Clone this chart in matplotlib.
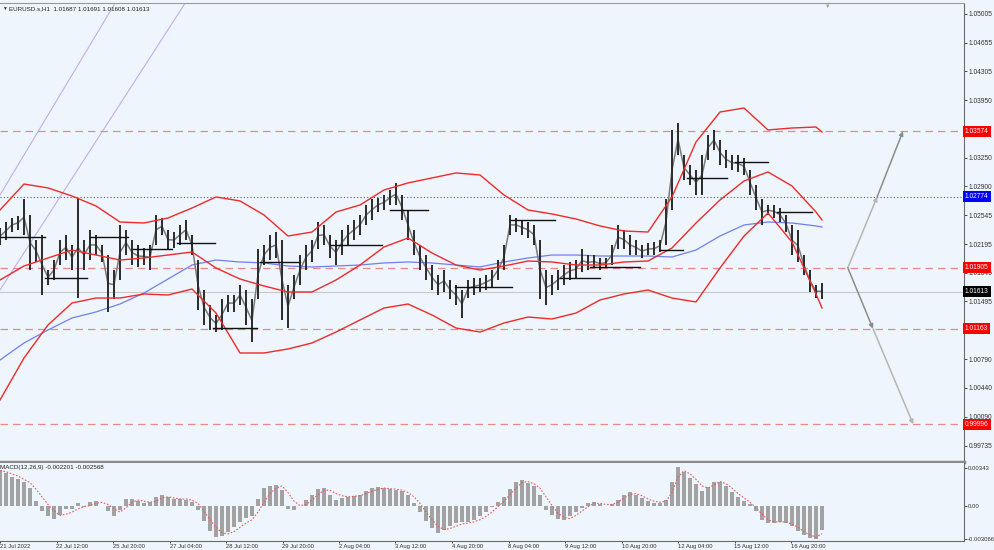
import numpy as np
import matplotlib.pyplot as plt

plt.rcParams['font.family'] = ['Liberation Sans', 'DejaVu Sans']

# EURUSD.s H1 - price read every ~6 px on the chart (one sample per bar group)
highs = [1.0239, 1.0247, 1.0252, 1.0254, 1.0274, 1.0255, 1.0225, 1.0231, 1.0188, 1.0200,
         1.0225, 1.0231, 1.0219, 1.0276, 1.0225, 1.0237, 1.0231, 1.0219, 1.0206, 1.0188,
         1.0243, 1.0237, 1.0225, 1.0219, 1.0215, 1.0219, 1.0255, 1.0252, 1.0237, 1.0234,
         1.0243, 1.0249, 1.0231, 1.0200, 1.0164, 1.0145, 1.0133, 1.0152, 1.0158, 1.0158,
         1.0170, 1.0164, 1.0152, 1.0213, 1.0219, 1.0231, 1.0234, 1.0225, 1.0170, 1.0182,
         1.0206, 1.0219, 1.0225, 1.0247, 1.0243, 1.0231, 1.0225, 1.0237, 1.0243, 1.0249,
         1.0255, 1.0267, 1.0274, 1.0276, 1.0280, 1.0286, 1.0294, 1.0280, 1.0261, 1.0237,
         1.0219, 1.0206, 1.0194, 1.0182, 1.0188, 1.0176, 1.0170, 1.0164, 1.0176, 1.0178,
         1.0178, 1.0182, 1.0188, 1.0200, 1.0219, 1.0255, 1.0252, 1.0249, 1.0247, 1.0243,
         1.0225, 1.0188, 1.0182, 1.0188, 1.0194, 1.0198, 1.0200, 1.0213, 1.0206, 1.0206,
         1.0203, 1.0203, 1.0219, 1.0243, 1.0237, 1.0231, 1.0225, 1.0219, 1.0221, 1.0222,
         1.0225, 1.0274, 1.0359, 1.0367, 1.0328, 1.0316, 1.0310, 1.0328, 1.0353, 1.0359,
         1.0347, 1.0334, 1.0328, 1.0328, 1.0325, 1.0310, 1.0292, 1.0274, 1.0267, 1.0267,
         1.0264, 1.0255, 1.0243, 1.0237, 1.0206, 1.0188, 1.0170, 1.0172]
lows = [1.0219, 1.0225, 1.0234, 1.0237, 1.0231, 1.0188, 1.0198, 1.0158, 1.0170, 1.0176,
        1.0194, 1.0200, 1.0188, 1.0154, 1.0188, 1.0200, 1.0206, 1.0198, 1.0137, 1.0152,
        1.0176, 1.0206, 1.0194, 1.0191, 1.0194, 1.0188, 1.0219, 1.0231, 1.0213, 1.0215,
        1.0219, 1.0225, 1.0206, 1.0139, 1.0121, 1.0115, 1.0112, 1.0115, 1.0137, 1.0137,
        1.0145, 1.0121, 1.0100, 1.0152, 1.0194, 1.0200, 1.0203, 1.0127, 1.0117, 1.0152,
        1.0170, 1.0188, 1.0198, 1.0213, 1.0219, 1.0203, 1.0194, 1.0206, 1.0219, 1.0225,
        1.0231, 1.0243, 1.0249, 1.0259, 1.0261, 1.0267, 1.0267, 1.0249, 1.0225, 1.0206,
        1.0188, 1.0176, 1.0164, 1.0158, 1.0161, 1.0152, 1.0145, 1.0129, 1.0154, 1.0158,
        1.0161, 1.0164, 1.0166, 1.0176, 1.0188, 1.0231, 1.0234, 1.0231, 1.0227, 1.0219,
        1.0152, 1.0145, 1.0158, 1.0164, 1.0170, 1.0176, 1.0178, 1.0186, 1.0188, 1.0191,
        1.0188, 1.0191, 1.0194, 1.0213, 1.0213, 1.0206, 1.0206, 1.0203, 1.0206, 1.0206,
        1.0210, 1.0219, 1.0261, 1.0328, 1.0298, 1.0292, 1.0280, 1.0280, 1.0322, 1.0334,
        1.0316, 1.0312, 1.0310, 1.0308, 1.0304, 1.0280, 1.0261, 1.0243, 1.0255, 1.0252,
        1.0247, 1.0234, 1.0206, 1.0198, 1.0182, 1.0161, 1.0154, 1.0152]

# Bollinger bands + slow MA, read every 4th sample
band_idx = list(range(0, 137, 4)) + [137]
bb_upper = [1.02612, 1.02929, 1.02881, 1.02783, 1.02661, 1.02465, 1.02453, 1.02514, 1.02636, 1.02771,
            1.02722, 1.02551, 1.02294, 1.02343, 1.02587, 1.02673, 1.02856, 1.02942, 1.03003, 1.03064,
            1.03039, 1.02795, 1.02612, 1.02563, 1.02502, 1.02417, 1.02355, 1.02343, 1.02771, 1.03442,
            1.03808, 1.03857, 1.03589, 1.03613, 1.03625, 1.03564]
bb_middle = [1.01757, 1.01928, 1.02026, 1.02123, 1.02062, 1.02001, 1.02026, 1.02062, 1.02099, 1.01904,
             1.01769, 1.01684, 1.01611, 1.01611, 1.01757, 1.01940, 1.02160, 1.02270, 1.02087, 1.01940,
             1.01879, 1.01928, 1.01989, 1.01977, 1.01940, 1.01940, 1.01977, 1.01989, 1.02148, 1.02453,
             1.02734, 1.02966, 1.03076, 1.02905, 1.02587, 1.02490]
bb_lower = [1.00292, 1.00805, 1.01208, 1.01476, 1.01537, 1.01537, 1.01586, 1.01574, 1.01647, 1.01354,
            1.00866, 1.00866, 1.00915, 1.00988, 1.01122, 1.01269, 1.01415, 1.01464, 1.01330, 1.01171,
            1.01122, 1.01232, 1.01305, 1.01281, 1.01354, 1.01513, 1.01586, 1.01635, 1.01537, 1.01489,
            1.01904, 1.02294, 1.02575, 1.02221, 1.01586, 1.01415]
ma_slow = [1.00780, 1.00988, 1.01147, 1.01293, 1.01367, 1.01464, 1.01598, 1.01769, 1.01940, 1.02001,
           1.01977, 1.01965, 1.01928, 1.01916, 1.01928, 1.01940, 1.01965, 1.01977, 1.01965, 1.01940,
           1.01916, 1.01977, 1.02026, 1.02062, 1.02062, 1.02050, 1.02050, 1.02050, 1.02038, 1.02123,
           1.02294, 1.02429, 1.02465, 1.02453, 1.02417, 1.02404]

# MACD(12,26,9) in units of 0.001
macd_main = [3.3, 3.0, 2.6, 2.4, 2.2, 1.6, 0.4, -0.5, -1.0, -1.2,
             -0.9, -0.3, -0.3, 0.2, -0.1, 0.3, 0.4, 0.0, -0.5, -1.0,
             -0.4, 0.6, 0.6, 0.4, 0.2, 0.3, 0.8, 1.0, 0.8, 0.6,
             0.6, 0.5, 0.3, -0.4, -1.4, -2.3, -2.9, -2.8, -2.4, -2.0,
             -1.5, -1.1, -1.0, 0.6, 1.6, 1.8, 1.9, 1.4, -0.3, -0.4,
             0.0, 0.5, 1.0, 1.5, 1.6, 1.0, 0.5, 0.7, 0.8, 0.9,
             1.0, 1.3, 1.6, 1.7, 1.6, 1.5, 1.4, 1.3, 1.0, 0.2,
             -0.6, -1.4, -2.1, -2.5, -2.2, -1.9, -1.6, -1.5, -1.5, -1.3,
             -1.0, -0.6, -0.1, 0.3, 0.8, 1.5, 2.2, 2.3, 2.1, 1.8,
             1.0, -0.4, -0.9, -1.2, -1.3, -1.0, -0.6, -0.2, 0.2, 0.3,
             0.1, 0.0, 0.1, 0.5, 1.0, 1.2, 1.0, 0.7, 0.4, 0.2,
             0.2, 0.5, 2.2, 3.5, 3.1, 2.5, 2.0, 1.3, 1.7, 2.2,
             2.2, 1.8, 1.2, 0.8, 0.45, 0.1, -0.5, -1.3, -1.6, -1.6,
             -1.5, -1.6, -1.9, -2.3, -2.7, -3.0, -3.1, -2.2]
macd_signal = [3.2, 3.1, 2.9, 2.7, 2.4, 2.1, 1.5, 0.8, 0.1, -0.5,
               -0.9, -0.8, -0.6, -0.3, -0.1, 0.0, 0.2, 0.3, 0.1, -0.3,
               -0.6, -0.2, 0.3, 0.5, 0.4, 0.3, 0.4, 0.7, 0.8, 0.7,
               0.6, 0.6, 0.5, 0.2, -0.5, -1.3, -2.0, -2.5, -2.6, -2.4,
               -2.0, -1.6, -1.3, -0.6, 0.3, 1.1, 1.6, 1.8, 1.2, 0.4,
               0.0, 0.1, 0.5, 1.0, 1.4, 1.4, 1.1, 0.9, 0.8, 0.85,
               0.9, 1.1, 1.3, 1.5, 1.6, 1.55, 1.5, 1.4, 1.2, 0.8,
               0.2, -0.6, -1.3, -1.9, -2.2, -2.1, -1.9, -1.7, -1.6, -1.5,
               -1.3, -1.0, -0.6, -0.1, 0.4, 1.0, 1.6, 2.1, 2.2, 2.0,
               1.6, 0.8, 0.0, -0.7, -1.1, -1.2, -0.9, -0.5, -0.1, 0.2,
               0.2, 0.1, 0.1, 0.3, 0.7, 1.0, 1.1, 0.9, 0.6, 0.4,
               0.3, 0.4, 1.2, 2.6, 3.2, 2.9, 2.4, 1.8, 1.6, 1.9,
               2.2, 2.0, 1.6, 1.1, 0.7, 0.3, -0.2, -0.8, -1.3, -1.5,
               -1.5, -1.5, -1.7, -2.0, -2.4, -2.7, -2.9, -2.57]

# short black support / resistance segments (start bar, end bar, price)
seg_start = [0, 7.5, 15, 22.2, 29.5, 35.5, 43.3, 55, 65, 75.8, 85, 93.3, 98.3, 110, 114.5, 122.5, 129.5]
seg_end = [7.5, 14.5, 21.3, 28.7, 35.8, 42.8, 50, 63.7, 71.3, 85.3, 92.5, 100, 106.7, 113.8, 121.2, 128, 135.3]
seg_price = [1.02282, 1.01783, 1.02282, 1.02136, 1.02209, 1.01171, 1.01978, 1.02185, 1.02612, 1.01672,
             1.02490, 1.01783, 1.01916, 1.02123, 1.03003, 1.03198, 1.02588]

red_levels = [1.03574, 1.01905, 1.01163, 0.99996]
blue_level = 1.02774
last_price = 1.01613
price_ticks = [1.05005, 1.04655, 1.04305, 1.03950, 1.03250, 1.02900, 1.02545, 1.02195,
               1.01845, 1.01495, 1.00790, 1.00440, 1.00090, 0.99735]
tag_levels = [1.03574, 1.02774, 1.01905, 1.01613, 1.01163, 0.99996]
tag_colors = ['#ff0000', '#0000ff', '#ff0000', '#000000', '#ff0000', '#ff0000']

time_labels = ['21 Jul 2022', '22 Jul 12:00', '25 Jul 20:00', '27 Jul 04:00', '28 Jul 12:00',
               '29 Jul 20:00', '2 Aug 04:00', '3 Aug 12:00', '4 Aug 20:00', '8 Aug 04:00',
               '9 Aug 12:00', '10 Aug 20:00', '12 Aug 04:00', '15 Aug 12:00', '16 Aug 20:00']

bg = '#eef5fc'
W, H = 994, 550
fig = plt.figure(figsize=(W / 100, H / 100), dpi=100, facecolor=bg)
ax = fig.add_axes([0, 1 - 462 / H, 964 / W, 459 / H], facecolor=bg)
ax2 = fig.add_axes([0, 1 - 541 / H, 964 / W, 78 / H], facecolor=bg)

x = np.arange(len(highs))
mid = (np.array(highs) + np.array(lows)) / 2

# price bars
ax.plot(x, mid, color='#7a7a7a', lw=1.1, zorder=3)
ax.vlines(x, lows, highs, color='#2a2a2a', lw=1.4, zorder=4)

# indicators
ax.plot(band_idx, ma_slow, color='#6f7ff0', lw=0.9, zorder=2)
for band in (bb_upper, bb_middle, bb_lower):
    ax.plot(band_idx, band, color='#ee2a2a', lw=1.0, zorder=5)

for x0, x1, p in zip(seg_start, seg_end, seg_price):
    ax.plot([x0, x1], [p, p], color='#111111', lw=1.0, zorder=6)

# trend lines top left
ax.plot([0, 19.5], [1.02795, 1.05176], color='#c2aee8', lw=0.8, zorder=1)
ax.plot([0, 31.2], [1.01635, 1.05176], color='#c2aee8', lw=0.8, zorder=1)

# horizontal levels
for lv in red_levels:
    ax.axhline(lv, color='#e98a8a', lw=0.9, ls=(0, (6, 4)), zorder=1)
ax.axhline(blue_level, color='#4848f0', lw=0.8, ls=(0, (1, 2)), zorder=1)
ax.axhline(last_price, color='#c8c8c8', lw=0.8, zorder=1)

# projected path arrows
start = (141.3, 1.01905)
arrow = dict(arrowstyle='-|>', color='#8c8c8c', lw=1.1, mutation_scale=6, shrinkA=0, shrinkB=0)
light = dict(arrowstyle='-|>', color='#b5b5b5', lw=1.1, mutation_scale=6, shrinkA=0, shrinkB=0)
ax.annotate('', xy=(146.2, blue_level), xytext=start, arrowprops=light)
ax.annotate('', xy=(150.5, 1.03574), xytext=(146.2, blue_level), arrowprops=arrow)
ax.annotate('', xy=(145.5, 1.01163), xytext=start, arrowprops=arrow)
ax.annotate('', xy=(152.2, 0.99996), xytext=(145.5, 1.01163), arrowprops=light)

ax.set_xlim(0, 964 / 6)
ax.set_ylim(0.99535, 1.05139)
ax.set_xticks([])
ax.yaxis.tick_right()
ax.set_yticks(price_ticks)
ax.set_yticklabels([f'{v:.5f}' for v in price_ticks])
ax.tick_params(axis='y', length=2, width=0.6, colors='#333333', labelsize=4.8, pad=1.5)

for lv, col in zip(tag_levels, tag_colors):
    ax.text(1.001, lv, f'{lv:.5f}', transform=ax.get_yaxis_transform(), color='white',
            fontsize=4.8, va='center', ha='left', clip_on=False, zorder=10,
            bbox=dict(boxstyle='square,pad=0.3', fc=col, ec='none'))

ax.spines['left'].set_visible(False)
ax.spines['top'].set_color('#9a9a9a')
ax.spines['right'].set_color('#6a6a6a')
ax.spines['right'].set_linewidth(0.8)
ax.spines['bottom'].set_color('#8c8c8c')
ax.spines['bottom'].set_linewidth(2.5)

ax.text(0.009, 0.992, 'EURUSD.s,H1  1.01687 1.01691 1.01608 1.01613', transform=ax.transAxes,
        fontsize=4.5, va='top', ha='left', color='#222222')
ax.text(0.002, 0.993, '\u25bc', transform=ax.transAxes, fontsize=3.5, va='top', ha='left', color='#333333')
# chart shift marker on the top edge
ax.text(828 / 6, 0.998, '\u25bc', transform=ax.get_xaxis_transform(), fontsize=4,
        va='top', ha='center', color='#9a9a9a', clip_on=False)

# MACD panel
macd_scale = 0.001
ax2.bar(x, np.array(macd_main) * macd_scale, width=0.8, color='#a2a2a2', lw=0)
ax2.plot(x, np.array(macd_signal) * macd_scale, color='#e06060', lw=0.8, ls=(0, (1.5, 1.5)))
ax2.set_xlim(0, 964 / 6)
ax2.set_ylim(-0.00325, 0.0039)
ax2.yaxis.tick_right()
ax2.set_yticks([0.00343, 0.0, -0.003066])
ax2.set_yticklabels(['0.00343', '0.00', '-0.003066'])
ax2.tick_params(axis='y', length=2, width=0.6, colors='#333333', labelsize=4.3, pad=1)
ax2.text(0.0, 0.97, 'MACD(12,26,9) -0.002201 -0.002568', transform=ax2.transAxes,
         fontsize=4.5, va='top', ha='left', color='#222222')

tick_step = 56.5 / 6
ax2.set_xticks([k * tick_step for k in range(len(time_labels))])
ax2.set_xticklabels(time_labels, ha='left')
ax2.tick_params(axis='x', length=1.5, width=0.6, colors='#333333', labelsize=4.2, pad=0.5)
ax2.spines['left'].set_visible(False)
ax2.spines['top'].set_visible(False)
ax2.spines['right'].set_color('#6a6a6a')
ax2.spines['right'].set_linewidth(0.8)
ax2.spines['bottom'].set_color('#6a6a6a')
ax2.spines['bottom'].set_linewidth(0.8)

fig.savefig('out.png', dpi=100, facecolor=bg)
